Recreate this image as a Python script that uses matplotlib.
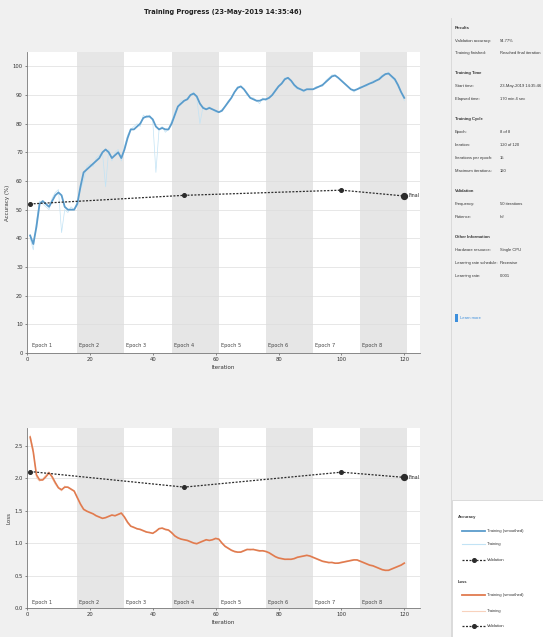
import matplotlib
matplotlib.use("Agg")
import matplotlib.pyplot as plt
from matplotlib.patches import Rectangle
from matplotlib.lines import Line2D
import numpy as np

plt.rcParams['font.family'] = ['DejaVu Sans']
PANEL_FONT = ['Liberation Sans Narrow', 'Liberation Sans', 'DejaVu Sans']

W, H = 543, 637

# ---- training data ----
iterations = list(range(1, 121))

acc_smoothed = [41, 38, 44, 52, 53, 52, 51, 53, 55, 56, 55, 51, 50, 50, 50, 52, 58, 63, 64, 65,
                66, 67, 68, 70, 71, 70, 68, 69, 70, 68, 71, 75, 78, 78, 79, 80, 82, 82.5, 82.5, 81.5,
                79, 78, 78.5, 78, 78, 80, 83, 86, 87, 88, 88.5, 90, 90.5, 89.5, 87, 85.5, 85, 85.5, 85, 84.5,
                84, 84.5, 86, 87.5, 89, 91, 92.5, 93, 92, 90.5, 89, 88.5, 88, 88, 88.5, 88.5, 89, 90, 91.5, 93,
                94, 95.5, 96, 95, 93.5, 92.5, 92, 91.5, 92, 92, 92, 92.5, 93, 93.5, 94.5, 95.5, 96.5, 96.8, 96, 95,
                94, 93, 92, 91.6, 92, 92.5, 93, 93.5, 94, 94.4, 95, 95.5, 96.5, 97.3, 97.5, 96.5, 95.5, 93.5, 91, 89]

acc_raw = [40, 36, 46, 53, 52, 51, 50, 54, 56, 57, 42, 50, 49, 51, 50, 53, 57, 60, 65, 66,
           65, 68, 69, 70, 58, 71, 67, 70, 71, 67, 72, 76, 78, 79, 80, 79, 83, 82, 83, 81,
           63, 78, 79, 77, 78, 81, 84, 86, 88, 88, 89, 90, 91, 89, 80, 86, 85, 86, 85, 84,
           84, 85, 86, 88, 89, 91, 93, 93, 92, 90, 89, 89, 88, 87, 89, 88, 89, 90, 92, 93,
           94, 96, 96, 95, 93, 92, 92, 91, 92, 92, 92, 93, 93, 93, 95, 96, 97, 97, 96, 95,
           94, 93, 92, 91, 92, 93, 93, 93, 94, 95, 95, 96, 97, 97, 98, 96, 95, 93, 91, 88]

loss_smoothed = [2.63, 2.4, 2.05, 1.97, 1.97, 2.02, 2.08, 2.02, 1.93, 1.85, 1.82, 1.86, 1.86, 1.83, 1.8,
                 1.7, 1.6, 1.52, 1.49, 1.47, 1.45, 1.42, 1.4, 1.38, 1.39, 1.41, 1.43, 1.42, 1.44, 1.46,
                 1.4, 1.32, 1.26, 1.24, 1.22, 1.21, 1.19, 1.17, 1.16, 1.15, 1.18, 1.22, 1.23, 1.21, 1.2,
                 1.16, 1.11, 1.08, 1.06, 1.05, 1.04, 1.02, 1.0, 0.99, 1.01, 1.03, 1.05, 1.04, 1.05, 1.07,
                 1.06, 1.0, 0.95, 0.92, 0.89, 0.87, 0.86, 0.86, 0.88, 0.9, 0.9, 0.9, 0.89, 0.88, 0.88,
                 0.87, 0.85, 0.82, 0.79, 0.77, 0.76, 0.75, 0.75, 0.75, 0.76, 0.78, 0.79, 0.8, 0.81, 0.8,
                 0.78, 0.76, 0.74, 0.72, 0.71, 0.7, 0.7, 0.69, 0.69, 0.7, 0.71, 0.72, 0.73, 0.74, 0.74,
                 0.72, 0.7, 0.68, 0.66, 0.65, 0.63, 0.61, 0.59, 0.58, 0.58, 0.6, 0.62, 0.64, 0.66, 0.69]

loss_raw = [2.66, 2.45, 2.0, 1.95, 1.99, 2.05, 2.1, 1.99, 1.9, 1.84, 1.8, 1.88, 1.85, 1.82, 1.79,
            1.68, 1.58, 1.5, 1.5, 1.46, 1.44, 1.41, 1.39, 1.37, 1.4, 1.42, 1.44, 1.41, 1.45, 1.47,
            1.38, 1.3, 1.25, 1.25, 1.21, 1.2, 1.18, 1.16, 1.17, 1.14, 1.19, 1.23, 1.22, 1.2, 1.19,
            1.15, 1.1, 1.07, 1.07, 1.04, 1.03, 1.01, 0.99, 0.98, 1.02, 1.04, 1.06, 1.03, 1.06, 1.08,
            1.05, 0.99, 0.94, 0.91, 0.88, 0.86, 0.85, 0.87, 0.89, 0.91, 0.89, 0.91, 0.88, 0.87, 0.89,
            0.86, 0.84, 0.81, 0.78, 0.76, 0.75, 0.74, 0.76, 0.74, 0.77, 0.79, 0.8, 0.81, 0.82, 0.79,
            0.77, 0.75, 0.73, 0.71, 0.7, 0.69, 0.71, 0.68, 0.7, 0.71, 0.72, 0.73, 0.74, 0.75, 0.73,
            0.71, 0.69, 0.67, 0.65, 0.64, 0.62, 0.6, 0.58, 0.57, 0.59, 0.61, 0.63, 0.65, 0.67, 0.7]

val_iterations = [1, 50, 100, 120]
val_accuracy = [52, 55, 56.8, 54.77]
val_loss = [2.1, 1.86, 2.09, 2.01]

n_epochs = 8
iters_per_epoch = 15
epoch_labels = [f"Epoch {k}" for k in range(1, n_epochs + 1)]
xticks = [0, 20, 40, 60, 80, 100, 120]

# ---- colours ----
FIG_BG = '#f0f0f0'
SHADE = '#e6e6e6'
ACC_SMOOTH = '#5a9ccc'
ACC_RAW = '#c2e3f5'
LOSS_SMOOTH = '#e07b4f'
LOSS_RAW = '#f8d2bd'
VAL = '#2b2b2b'

fig = plt.figure(figsize=(W / 100, H / 100), dpi=100, facecolor=FIG_BG)


def px_axes(left, top, right, bottom):
    return fig.add_axes([left / W, 1 - bottom / H, (right - left) / W, (bottom - top) / H])


def style_axes(ax, ylim, yticks, ylabel):
    ax.set_xlim(0, 125)
    ax.set_ylim(*ylim)
    ax.set_facecolor('white')
    for k in range(n_epochs):
        x0 = k * iters_per_epoch + 1
        x1 = x0 + iters_per_epoch
        if k % 2 == 1:
            ax.axvspan(x0, x1, color=SHADE, lw=0, zorder=0)
        ax.text(x0 + 0.6, ylim[0] + (ylim[1] - ylim[0]) * 0.018, epoch_labels[k],
                fontsize=3.6, color='#444444', ha='left', va='bottom', zorder=5)
    ax.set_yticks(yticks)
    ax.set_xticks(xticks)
    ax.grid(axis='y', color='#dddddd', lw=0.5, zorder=1)
    ax.tick_params(labelsize=3.8, length=1.5, width=0.4, colors='#333333', pad=1.5)
    for s in ['top', 'right']:
        ax.spines[s].set_visible(False)
    for s in ['left', 'bottom']:
        ax.spines[s].set_color('#777777')
        ax.spines[s].set_linewidth(0.6)
    ax.set_xlabel('Iteration', fontsize=4, labelpad=2, color='#333333')
    ax.set_ylabel(ylabel, fontsize=4, labelpad=2, color='#333333')


# ---- accuracy axes ----
ax1 = px_axes(27, 52, 420, 353)
style_axes(ax1, (0, 105), list(range(0, 101, 10)), 'Accuracy (%)')
ax1.plot(iterations, acc_raw, color=ACC_RAW, lw=0.5, zorder=3)
ax1.plot(iterations, acc_smoothed, color=ACC_SMOOTH, lw=1.3, zorder=4)
ax1.plot(val_iterations, val_accuracy, color=VAL, lw=0.9, ls=(0, (1.6, 1.2)),
         marker='o', ms=2.6, markerfacecolor=VAL, markeredgecolor=VAL, zorder=6)
ax1.plot(val_iterations[-1], val_accuracy[-1], 'o', ms=4.2, color=VAL, zorder=7)
ax1.text(val_iterations[-1] + 1.2, val_accuracy[-1], 'Final', fontsize=3.4,
         va='center', ha='left', color='#222222', zorder=7)

# ---- loss axes ----
ax2 = px_axes(27, 428, 420, 608)
style_axes(ax2, (0, 2.77), [0, 0.5, 1, 1.5, 2, 2.5], 'Loss')
ax2.plot(iterations, loss_raw, color=LOSS_RAW, lw=0.5, zorder=3)
ax2.plot(iterations, loss_smoothed, color=LOSS_SMOOTH, lw=1.2, zorder=4)
ax2.plot(val_iterations, val_loss, color=VAL, lw=0.9, ls=(0, (1.6, 1.2)),
         marker='o', ms=2.6, markerfacecolor=VAL, markeredgecolor=VAL, zorder=6)
ax2.plot(val_iterations[-1], val_loss[-1], 'o', ms=4.2, color=VAL, zorder=7)
ax2.text(val_iterations[-1] + 1.2, val_loss[-1], 'Final', fontsize=3.4,
         va='center', ha='left', color='#222222', zorder=7)

# ---- title ----
fig.text(223 / W, 1 - 12 / H, 'Training Progress (23-May-2019 14:35:46)',
         fontsize=4.8, fontweight='bold', ha='center', va='center', color='#222222')

# ---- side panel ----
fig.add_artist(Line2D([451 / W, 451 / W], [0, 1 - 18 / H], color='#d6d6d6', lw=0.6))


def ptext(x, y, s, bold=False, color='#333333', size=3.0):
    fig.text(x / W, 1 - y / H, s, fontsize=size, ha='left', va='center', family=PANEL_FONT,
             fontweight='bold' if bold else 'normal', color=color)


info = [
    ('Results', 28, None),
    ('Validation accuracy:', 41, '54.77%'),
    ('Training finished:', 53, 'Reached final iteration'),
    ('Training Time', 73, None),
    ('Start time:', 86, '23-May-2019 14:35:46'),
    ('Elapsed time:', 99, '170 min 4 sec'),
    ('Training Cycle', 119, None),
    ('Epoch:', 132, '8 of 8'),
    ('Iteration:', 145, '120 of 120'),
    ('Iterations per epoch:', 158, '15'),
    ('Maximum iterations:', 171, '120'),
    ('Validation', 191, None),
    ('Frequency:', 204, '50 iterations'),
    ('Patience:', 217, 'Inf'),
    ('Other Information', 237, None),
    ('Hardware resource:', 250, 'Single CPU'),
    ('Learning rate schedule:', 263, 'Piecewise'),
    ('Learning rate:', 276, '0.001'),
]
for label, y, value in info:
    if value is None:
        ptext(455, y, label, bold=True)
    else:
        ptext(455, y, label)
        ptext(500, y, value)

fig.add_artist(Rectangle((455 / W, 1 - 322 / H), 3 / W, 8 / H, color='#3d8fdc', lw=0))
ptext(460, 318, 'Learn more', color='#3d8fdc')

# ---- legend panel ----
fig.add_artist(Rectangle((452 / W, 0), (W - 452) / W, (H - 500) / H,
                         facecolor='white', edgecolor='#d6d6d6', lw=0.6))

legend_groups = [
    ('Accuracy', 517, [(531, 'Training (smoothed)', ACC_SMOOTH, '-', None, 1.3),
                       (544, 'Training', ACC_RAW, '-', None, 0.8),
                       (560, 'Validation', VAL, (0, (1.6, 1.2)), 'o', 0.9)]),
    ('Loss', 582, [(595, 'Training (smoothed)', LOSS_SMOOTH, '-', None, 1.3),
                   (611, 'Training', LOSS_RAW, '-', None, 0.8),
                   (626, 'Validation', VAL, (0, (1.6, 1.2)), 'o', 0.9)]),
]
for header, hy, rows in legend_groups:
    ptext(458, hy, header, bold=True)
    for y, lab, col, ls, mk, lw in rows:
        yf = 1 - y / H
        fig.add_artist(Line2D([462 / W, 485 / W], [yf, yf], color=col, ls=ls, lw=lw))
        if mk:
            fig.add_artist(Line2D([473.5 / W], [yf], color=col, marker=mk, ms=2.6, ls='none'))
        ptext(487, y, lab)

fig.savefig('out.png', dpi=100, facecolor=FIG_BG)
